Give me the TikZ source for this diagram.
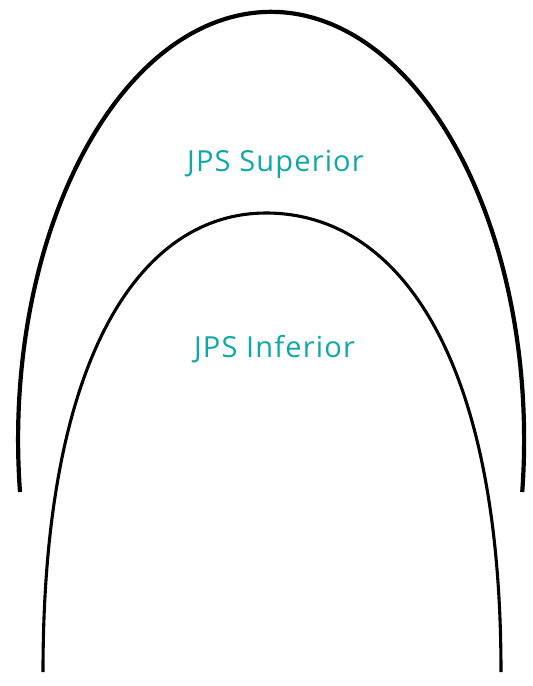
\documentclass[tikz,border=0pt]{standalone}
\usepackage{fontspec}
\setmainfont{Open Sans}[LetterSpace=4]
\definecolor{jpsteal}{RGB}{16,168,166}
\begin{document}
\begin{tikzpicture}[x=1pt,y=-1pt,
  archout/.style={draw=black,line width=4.2pt},
  archin/.style={draw=black,line width=3.1pt},
  lbl/.style={text=jpsteal,font=\fontsize{29}{34}\selectfont,anchor=base,inner sep=0pt}]
\useasboundingbox (0,0) rectangle (533,686);
% outer arch (elliptic)
\draw[archout] (20,492) arc[start angle=187,end angle=-7,x radius=253,y radius=-428];
% inner arch
\draw[archin] (43,672) .. controls (43,350.7) and (143.4,213) .. (266,213)
  .. controls (395.3,213) and (501,350.7) .. (501,672);
\node[lbl] (sup) at (275.5,171) {JPS Superior};
\node[lbl] (inf) at (274.5,357) {JPS Inferior};
\end{tikzpicture}
\end{document}
